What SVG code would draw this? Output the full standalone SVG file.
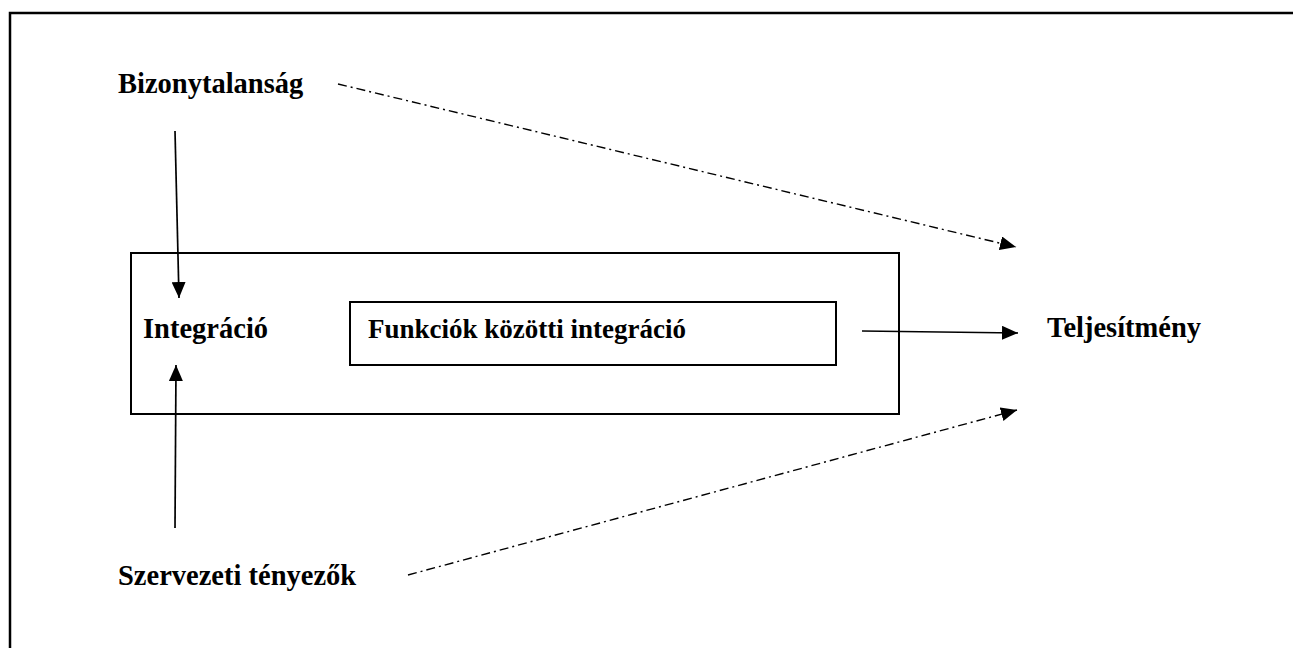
<svg xmlns="http://www.w3.org/2000/svg" width="1293" height="648" viewBox="0 0 1293 648">
<style>
.lbl{font-family:"Liberation Serif","Times New Roman",serif;font-weight:bold;font-size:28.5px;fill:#000}
.inner{font-size:27px}
.box{fill:none;stroke:#000;stroke-width:2}
.solid{fill:none;stroke:#000;stroke-width:1.7}
.dd{fill:none;stroke:#000;stroke-width:1.4;stroke-dasharray:9 4 2 4}
</style>
<defs>
<marker id="ah" markerUnits="userSpaceOnUse" markerWidth="18" markerHeight="14" refX="16" refY="7" orient="auto">
<path d="M0,0 L16,7 L0,14 Z" fill="#000"/>
</marker>
</defs>
<rect width="1293" height="648" fill="#fff"/>
<path d="M10,648 V13 H1293" fill="none" stroke="#000" stroke-width="2.5"/>
<g id="node-integracio-box">
<rect class="box" x="131" y="253" width="768" height="161"/>
<text class="lbl" x="143" y="338">Integráció</text>
</g>
<g id="node-funkciok">
<rect class="box" x="350" y="302" width="486" height="63"/>
<text class="lbl inner" x="368" y="338">Funkciók közötti integráció</text>
</g>
<g id="node-bizonytalansag">
<text class="lbl" x="118" y="93">Bizonytalanság</text>
</g>
<g id="node-szervezeti">
<text class="lbl" x="118" y="585">Szervezeti tényezők</text>
</g>
<g id="node-teljesitmeny">
<text class="lbl" x="1047" y="337">Teljesítmény</text>
</g>
<g id="connectors">
<line class="solid" x1="175" y1="131" x2="179" y2="298" marker-end="url(#ah)"/>
<line class="solid" x1="175" y1="528" x2="176" y2="365" marker-end="url(#ah)"/>
<line class="solid" x1="862" y1="331" x2="1018" y2="333" marker-end="url(#ah)"/>
<line class="dd" x1="338" y1="84" x2="1016" y2="247" marker-end="url(#ah)"/>
<line class="dd" x1="408" y1="575" x2="1017" y2="410" marker-end="url(#ah)"/>
</g>
</svg>
